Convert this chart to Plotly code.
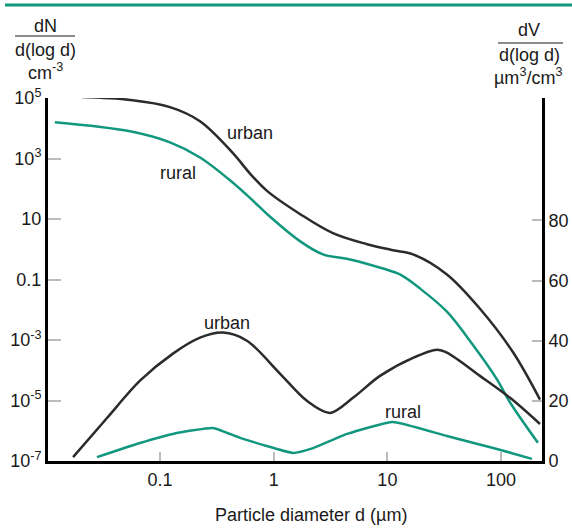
import plotly.graph_objects as go

# ---- data ----
# number distributions dN/d(log d) [cm^-3], left log axis
urban_n_d = [0.0206, 0.0545, 0.1225, 0.225, 0.438, 0.62, 0.873, 1.70, 3.32, 6.62, 11.2, 16.8, 33.4, 65.2, 127, 220]
urban_n_v = [1.07e5, 8.6e4, 5.0e4, 1.7e4, 1.5e3, 316, 85, 14.7, 3.4, 1.47, 0.93, 0.68, 0.147, 0.0108, 4e-4, 1.07e-5]

rural_n_d = [0.0119, 0.0545, 0.1225, 0.225, 0.438, 0.658, 0.873, 1.70, 2.71, 4.69, 9.15, 12.9, 19.4, 33.4, 56.6, 92, 120, 211]
rural_n_v = [1.58e4, 7.9e3, 3.4e3, 1.08e3, 158, 40, 14.7, 1.86, 0.68, 0.46, 0.23, 0.147, 0.05, 8.6e-3, 6.8e-4, 5e-5, 8.6e-6, 4e-7]

# volume distributions dV/d(log d) [um^3/cm^3], right linear axis
urban_v_d = [0.0172, 0.0342, 0.0667, 0.130, 0.225, 0.358, 0.582, 1.14, 1.96, 3.13, 4.98, 8.61, 16.8, 27.3, 33.4, 65.2, 120, 220]
urban_v_v = [1.3, 14.3, 26.7, 35.7, 41, 42.7, 40, 29, 20, 16, 21, 28.3, 34.3, 37, 36, 28.3, 21, 12.3]

rural_v_d = [0.0279, 0.0667, 0.130, 0.292, 0.506, 1.48, 2.22, 4.42, 11.2, 33.4, 92, 187]
rural_v_v = [1.3, 6, 9, 11, 7.7, 2.7, 4.3, 9, 13, 8.3, 4, 0.7]

x_ticks = [0.1, 1, 10, 100]
x_ticktext = ["0.1", "1", "10", "100"]
yl_ticks = [1e5, 1e3, 10, 0.1, 1e-3, 1e-5, 1e-7]
yl_ticktext = ["10<sup>5</sup>", "10<sup>3</sup>", "10", "0.1", "10<sup>-3</sup>", "10<sup>-5</sup>", "10<sup>-7</sup>"]
yr_ticks = [0, 20, 40, 60, 80]

BLACK = "#2b2b2b"
TEAL = "#12977f"
FONT = "Liberation Sans, Arial, sans-serif"
TXT = "#1a1a1a"

fig = go.Figure()
fig.add_trace(go.Scatter(x=urban_n_d, y=urban_n_v, mode="lines",
                         line=dict(color=BLACK, width=2.5, shape="spline", smoothing=1), yaxis="y"))
fig.add_trace(go.Scatter(x=rural_n_d, y=rural_n_v, mode="lines",
                         line=dict(color=TEAL, width=2.5, shape="spline", smoothing=1), yaxis="y"))
fig.add_trace(go.Scatter(x=urban_v_d, y=urban_v_v, mode="lines",
                         line=dict(color=BLACK, width=2.5, shape="spline", smoothing=0.9), yaxis="y2"))
fig.add_trace(go.Scatter(x=rural_v_d, y=rural_v_v, mode="lines",
                         line=dict(color=TEAL, width=2.5, shape="spline", smoothing=0.4), yaxis="y2"))

fig.update_layout(
    width=572, height=528,
    margin=dict(l=48, r=30, t=98, b=67, pad=0),
    paper_bgcolor="white", plot_bgcolor="white",
    showlegend=False,
    font=dict(family=FONT, size=18, color=TXT),
    xaxis=dict(type="log", range=[-1.985, 2.36], tickvals=x_ticks, ticktext=x_ticktext,
               showline=True, linecolor="black", linewidth=3, showgrid=False, zeroline=False,
               ticks="inside", ticklen=9, tickcolor="#bbbbbb", tickwidth=1.5, automargin=False,
               tickfont=dict(size=18, family=FONT, color=TXT)),
    yaxis=dict(type="log", range=[-7, 5], tickvals=yl_ticks, ticktext=yl_ticktext,
               showline=True, linecolor="black", linewidth=3, showgrid=False, zeroline=False,
               ticks="inside", ticklen=13, tickcolor="#bbbbbb", tickwidth=1.5, automargin=False,
               tickfont=dict(size=18, family=FONT, color=TXT)),
    yaxis2=dict(overlaying="y", side="right", range=[0, 120.7], tickvals=yr_ticks,
                showline=True, linecolor="black", linewidth=3, showgrid=False, zeroline=False,
                ticks="inside", ticklen=10, tickcolor="#bbbbbb", tickwidth=1.5,
                ticklabelstandoff=0, automargin=False,
                tickfont=dict(size=18, family=FONT, color=TXT)),
)

def px2paper(px, py):
    return (px - 48) / 494.0, (461 - py) / 363.0

ann = []
def add_text(text, px, py, size=18):
    x, y = px2paper(px, py)
    ann.append(dict(text=text, x=x, y=y, xref="paper", yref="paper", showarrow=False,
                    xanchor="center", yanchor="middle", font=dict(size=size, family=FONT, color=TXT)))

# axis titles
add_text("dN", 45, 26)
add_text("d(log d)", 45, 50)
add_text("cm<sup>-3</sup>", 45, 72)
add_text("dV", 529, 30)
add_text("d(log d)", 529, 55)
add_text("µm<sup>3</sup>/cm<sup>3</sup>", 528, 77)
add_text("Particle diameter d (µm)", 311, 515)

# curve labels (data coordinates)
ann.append(dict(text="urban", x=-0.208, y=3.83, xref="x", yref="y", showarrow=False,
                font=dict(size=18, family=FONT, color=TXT)))
ann.append(dict(text="rural", x=-0.842, y=2.53, xref="x", yref="y", showarrow=False,
                font=dict(size=18, family=FONT, color=TXT)))
ann.append(dict(text="urban", x=-0.41, y=46, xref="x", yref="y2", showarrow=False,
                font=dict(size=18, family=FONT, color=TXT)))
ann.append(dict(text="rural", x=1.137, y=16.3, xref="x", yref="y2", showarrow=False,
                font=dict(size=18, family=FONT, color=TXT)))
fig.update_layout(annotations=ann)

# fraction bars and top rule
shapes = []
x0, y0 = px2paper(15, 36); x1, _ = px2paper(75, 36)
shapes.append(dict(type="line", xref="paper", yref="paper", x0=x0, x1=x1, y0=y0, y1=y0,
                   line=dict(color=TXT, width=1.2)))
x0, y0 = px2paper(498, 43); x1, _ = px2paper(563, 43)
shapes.append(dict(type="line", xref="paper", yref="paper", x0=x0, x1=x1, y0=y0, y1=y0,
                   line=dict(color=TXT, width=1.2)))
x0, y0 = px2paper(5, 5); x1, _ = px2paper(572, 5)
shapes.append(dict(type="line", xref="paper", yref="paper", x0=x0, x1=x1, y0=y0, y1=y0,
                   line=dict(color=TEAL, width=3)))
fig.update_layout(shapes=shapes)

fig.write_html("out.html")
